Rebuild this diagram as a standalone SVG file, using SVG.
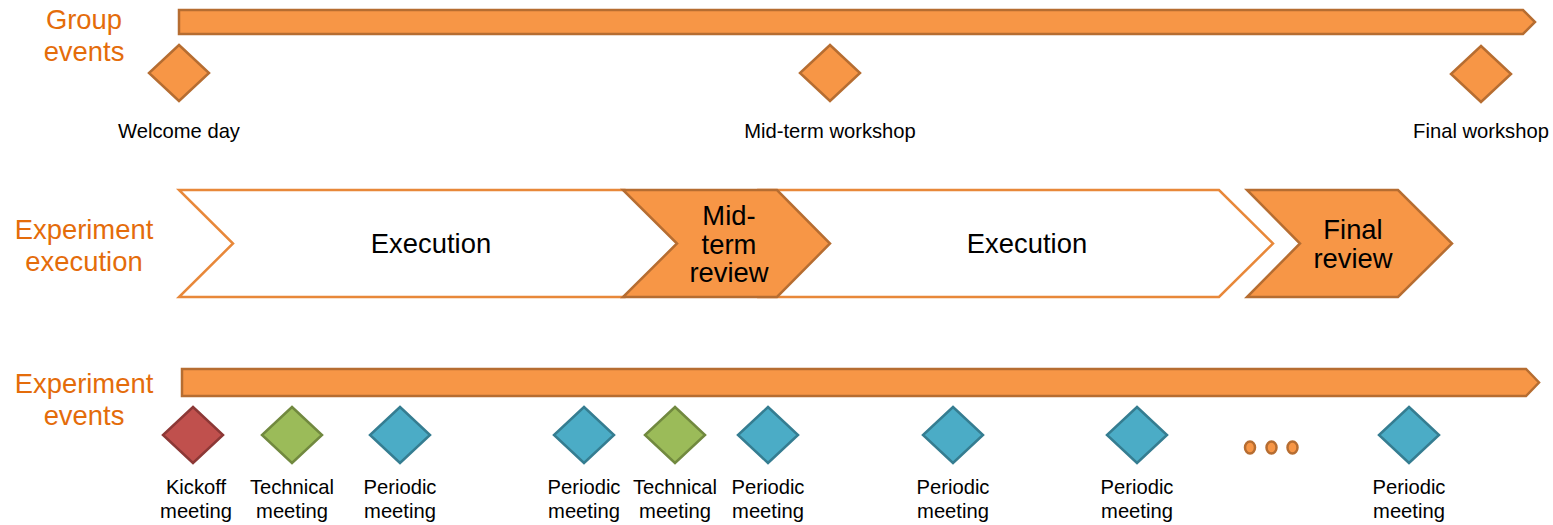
<svg xmlns="http://www.w3.org/2000/svg" width="1553" height="525" viewBox="0 0 1553 525">
  <style>
    .row-label { font-family: "Liberation Sans", Arial, sans-serif; font-size: 27.4px; fill: #E46C0A; text-anchor: middle; }
    .cap { font-family: "Liberation Sans", Arial, sans-serif; font-size: 20.2px; fill: #000; text-anchor: middle; }
    .phase { font-family: "Liberation Sans", Arial, sans-serif; font-size: 27.4px; fill: #000; text-anchor: middle; }
    .bar { fill: #F79646; stroke: #B66D31; stroke-width: 2.5; }
    .orange { fill: #F79646; stroke: #B66D31; stroke-width: 2.5; stroke-linejoin: miter; }
    .open { fill: #FFFFFF; stroke: #E8883A; stroke-width: 2.5; }
    .red { fill: #C0504D; stroke: #8C3836; stroke-width: 2.5; }
    .green { fill: #9BBB59; stroke: #71893F; stroke-width: 2.5; }
    .blue { fill: #4BACC6; stroke: #357D91; stroke-width: 2.5; }
  </style>
  <defs>
    <polygon id="dia" points="0,-28 30,0 0,28 -30,0"/>
  </defs>

  <!-- Row titles -->
  <g id="row-titles">
    <text class="row-label" x="84" y="29">Group</text>
    <text class="row-label" x="84" y="61">events</text>
    <text class="row-label" x="84" y="239">Experiment</text>
    <text class="row-label" x="84" y="271">execution</text>
    <text class="row-label" x="84" y="393">Experiment</text>
    <text class="row-label" x="84" y="425">events</text>
  </g>

  <!-- Timelines -->
  <g id="timelines">
    <polygon class="bar" points="179,10 1523,10 1535,22 1523,34 179,34"/>
    <polygon class="bar" points="182,369 1526,369 1539,382.5 1526,396 182,396"/>
  </g>

  <!-- Group events -->
  <g id="welcome-day">
    <use href="#dia" class="orange" x="179" y="73"/>
    <text class="cap" x="179" y="138">Welcome day</text>
  </g>
  <g id="midterm-workshop">
    <use href="#dia" class="orange" x="830" y="73"/>
    <text class="cap" x="830" y="138">Mid-term workshop</text>
  </g>
  <g id="final-workshop">
    <use href="#dia" class="orange" x="1481" y="74"/>
    <text class="cap" x="1481" y="138">Final workshop</text>
  </g>

  <!-- Experiment execution phases -->
  <g id="execution-1">
    <polygon class="open" points="179,190 625,190 678,243.5 625,297 179,297 233,243.5"/>
    <text class="phase" x="431" y="253">Execution</text>
  </g>
  <g id="execution-2">
    <polygon class="open" points="760,190 1219,190 1273,243.5 1219,297 760,297 814,243.5"/>
    <text class="phase" x="1027" y="253">Execution</text>
  </g>
  <g id="midterm-review">
    <polygon class="orange" points="623,190 777,190 830,243.5 777,297 623,297 677,243.5"/>
    <text class="phase" x="729" y="225">Mid-</text>
    <text class="phase" x="729" y="254">term</text>
    <text class="phase" x="729" y="282">review</text>
  </g>
  <g id="final-review">
    <polygon class="orange" points="1247,190 1398,190 1452,243.5 1398,297 1247,297 1300,243.5"/>
    <text class="phase" x="1353" y="239">Final</text>
    <text class="phase" x="1353" y="268">review</text>
  </g>

  <!-- Experiment events -->
  <g id="kickoff">
    <use href="#dia" class="red" x="193" y="435"/>
    <text class="cap" x="196" y="494">Kickoff</text>
    <text class="cap" x="196" y="518">meeting</text>
  </g>
  <g id="technical-1">
    <use href="#dia" class="green" x="292" y="435"/>
    <text class="cap" x="292" y="494">Technical</text>
    <text class="cap" x="292" y="518">meeting</text>
  </g>
  <g id="periodic-1">
    <use href="#dia" class="blue" x="400" y="435"/>
    <text class="cap" x="400" y="494">Periodic</text>
    <text class="cap" x="400" y="518">meeting</text>
  </g>
  <g id="periodic-2">
    <use href="#dia" class="blue" x="584" y="435"/>
    <text class="cap" x="584" y="494">Periodic</text>
    <text class="cap" x="584" y="518">meeting</text>
  </g>
  <g id="technical-2">
    <use href="#dia" class="green" x="675" y="435"/>
    <text class="cap" x="675" y="494">Technical</text>
    <text class="cap" x="675" y="518">meeting</text>
  </g>
  <g id="periodic-3">
    <use href="#dia" class="blue" x="768" y="435"/>
    <text class="cap" x="768" y="494">Periodic</text>
    <text class="cap" x="768" y="518">meeting</text>
  </g>
  <g id="periodic-4">
    <use href="#dia" class="blue" x="953" y="435"/>
    <text class="cap" x="953" y="494">Periodic</text>
    <text class="cap" x="953" y="518">meeting</text>
  </g>
  <g id="periodic-5">
    <use href="#dia" class="blue" x="1137" y="435"/>
    <text class="cap" x="1137" y="494">Periodic</text>
    <text class="cap" x="1137" y="518">meeting</text>
  </g>
  <g id="ellipsis">
    <ellipse class="orange" cx="1250" cy="447.5" rx="5" ry="6"/>
    <ellipse class="orange" cx="1271.5" cy="447.5" rx="5" ry="6"/>
    <ellipse class="orange" cx="1292.5" cy="447.5" rx="5" ry="6"/>
  </g>
  <g id="periodic-6">
    <use href="#dia" class="blue" x="1409" y="435"/>
    <text class="cap" x="1409" y="494">Periodic</text>
    <text class="cap" x="1409" y="518">meeting</text>
  </g>

  <!-- no connectors between nodes -->
  <g id="connectors"/>
</svg>
